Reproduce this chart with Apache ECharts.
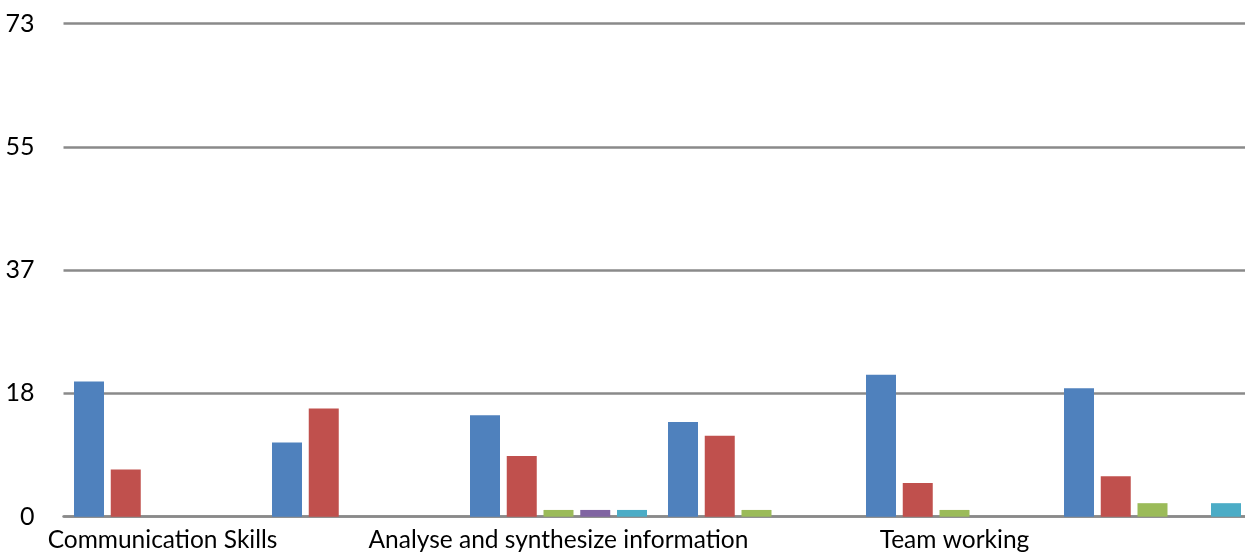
<!DOCTYPE html>
<html>
<head>
<meta charset="utf-8">
<script src="https://cdn.jsdelivr.net/npm/echarts@6/dist/echarts.min.js"></script>
<style>
  html, body { margin: 0; padding: 0; background: #ffffff; }
  #chart { width: 1245px; height: 552px; }
</style>
</head>
<body>
<div id="chart"></div>
<script>
// Skill categories (every other label is shown on the axis)
const categories = ['Communication Skills', '', 'Analyse and synthesize information', '', 'Team working', ''];

// Counts per response level
const level1 = [20, 11, 15, 14, 21, 19];
const level2 = [7, 16, 9, 12, 5, 6];
const level3 = [0, 0, 1, 1, 1, 2];
const level4 = [0, 0, 1, 0, 0, 0];
const level5 = [0, 0, 1, 0, 0, 2];

const seriesValues = [level1, level2, level3, level4, level5];
const seriesColors = ['#4F81BD', '#C0504D', '#9BBB59', '#8064A2', '#4BACC6'];

// Value axis: 0..73 split into four equal steps
const yMin = 0;
const yMax = 73;
const yStep = 18.25;

const FONT = 'Lato, "Open Sans", sans-serif';
const GRID_COLOR = '#8a8a8a';

const chart = echarts.init(document.getElementById('chart'), null, { renderer: 'canvas' });

// The plot area runs a little past the right edge of the canvas,
// and the category labels are allowed to run off the bottom edge.
chart.setOption({
  animation: false,
  backgroundColor: '#ffffff',
  grid: {
    left: 63.5, width: 1188, top: 23.5, height: 493.2,
    containLabel: false,
    outerBoundsMode: 'none'
  },
  xAxis: {
    type: 'category',
    data: categories,
    axisLine: { show: true, lineStyle: { color: GRID_COLOR, width: 2.5 } },
    axisTick: { show: false },
    axisLabel: {
      interval: 1,
      color: '#000000',
      fontFamily: FONT,
      fontSize: 24.5,
      margin: 11
    }
  },
  yAxis: {
    type: 'value',
    min: yMin,
    max: yMax,
    interval: yStep,
    axisLine: { show: false },
    axisTick: { show: false },
    splitLine: { show: true, lineStyle: { color: GRID_COLOR, width: 2.5 } },
    axisLabel: {
      color: '#000000',
      fontFamily: FONT,
      fontSize: 25,
      margin: 29,
      formatter: v => String(Math.round(v))
    }
  },
  series: seriesValues.map((vals, i) => ({
    type: 'bar',
    data: vals,
    barWidth: 30,
    barGap: '22.5%',
    itemStyle: { color: seriesColors[i] }
  }))
});
</script>
</body>
</html>
